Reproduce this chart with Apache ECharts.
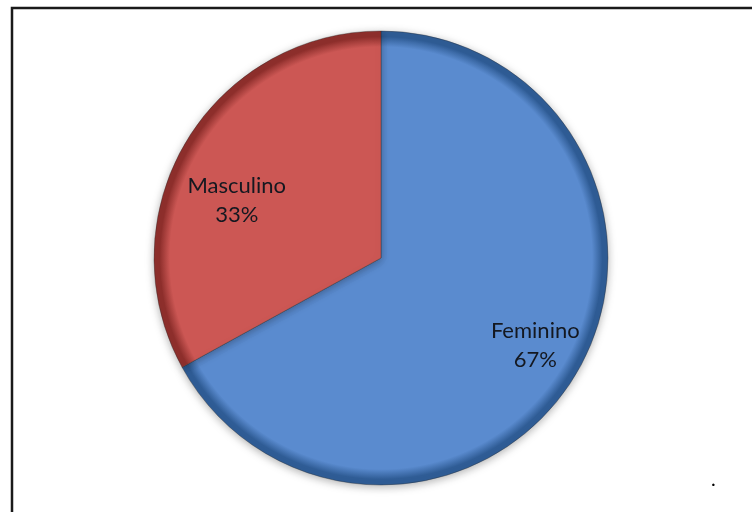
<!DOCTYPE html>
<html>
<head>
<meta charset="utf-8">
<script src="https://cdn.jsdelivr.net/npm/echarts@6/dist/echarts.min.js"></script>
<style>
  html, body { margin: 0; padding: 0; background: #ffffff; }
  #chart { width: 752px; height: 512px; }
</style>
</head>
<body>
<div id="chart"></div>
<script>
// Gender split
const categories = ['Feminino', 'Masculino'];
const shares = [67, 33];

const colors = ['#5a8bcf', '#cc5754'];
const rimColors = ['#2f5c95', '#8e2f2c'];
const labelOffsets = [[54, 28], [-44, 2]];

const CX = 381, CY = 258, R = 227;

function sliceFill(i) {
  return {
    type: 'radial', x: CX, y: CY, r: R, global: true,
    colorStops: [
      { offset: 0, color: colors[i] },
      { offset: 0.93, color: colors[i] },
      { offset: 0.975, color: rimColors[i] },
      { offset: 1, color: rimColors[i] }
    ]
  };
}

const chart = echarts.init(document.getElementById('chart'), null, { renderer: 'canvas' });

chart.setOption({
  backgroundColor: '#ffffff',
  animation: false,
  graphic: [
    {
      type: 'rect',
      shape: { x: 12, y: 8, width: 800, height: 600 },
      style: { fill: 'none', stroke: '#1a1a1a', lineWidth: 2.5 }
    },
    {
      type: 'text',
      left: 711, top: 470,
      style: { text: '.', fontSize: 20, fill: '#000', fontFamily: 'Lato' }
    }
  ],
  series: [{
    type: 'pie',
    center: [CX, CY],
    radius: [0, R],
    startAngle: 90,
    clockwise: true,
    avoidLabelOverlap: false,
    labelLine: { show: false },
    itemStyle: {
      borderColor: 'rgba(40,40,40,0.35)',
      borderWidth: 1,
      shadowBlur: 8,
      shadowColor: 'rgba(0,0,0,0.3)',
      shadowOffsetY: 2
    },
    label: {
      show: true,
      position: 'inside',
      formatter: '{b}\n{d}%',
      fontFamily: 'Lato',
      fontSize: 22,
      lineHeight: 29,
      color: '#141820'
    },
    emphasis: { disabled: true },
    data: categories.map((name, i) => ({
      name: name,
      value: shares[i],
      itemStyle: { color: sliceFill(i) },
      label: { offset: labelOffsets[i] }
    }))
  }]
});
</script>
</body>
</html>
